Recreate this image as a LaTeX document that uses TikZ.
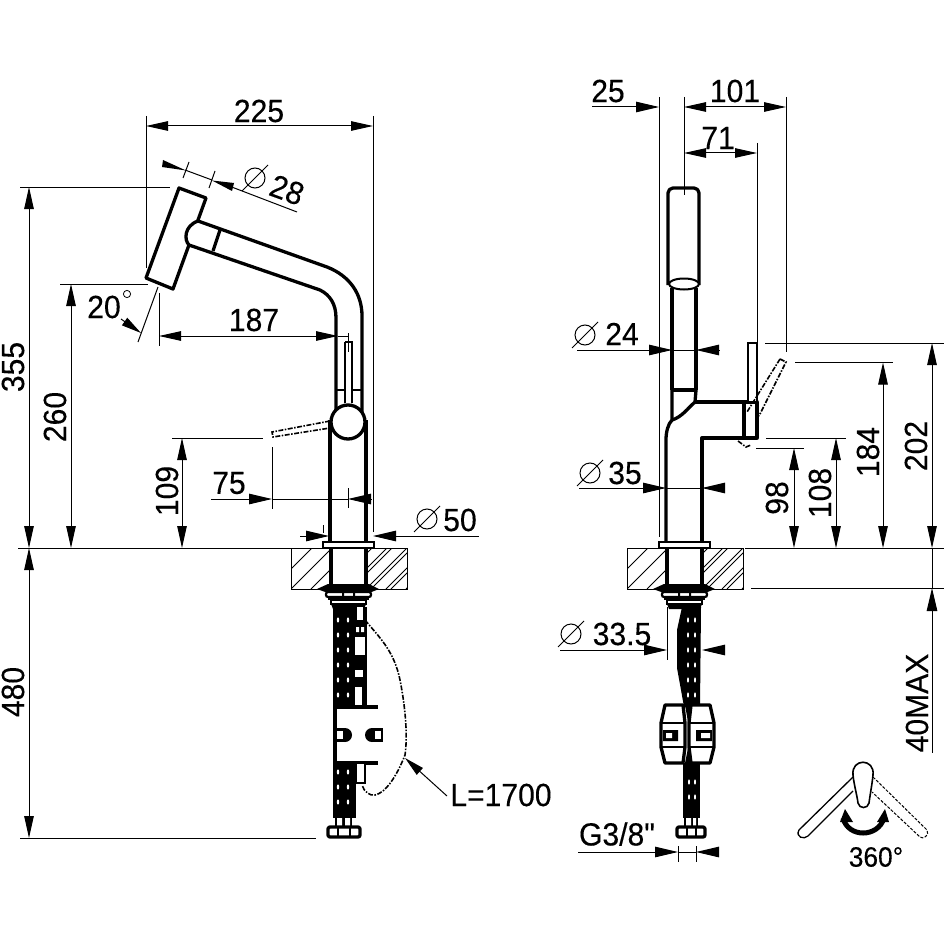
\documentclass[tikz,border=0pt]{standalone}
\usepackage{fontspec}
\setmainfont{Liberation Sans}[FakeStretch=0.94,FakeBold=0.25]
\newfontfamily\plainq{Liberation Sans}[FakeStretch=0.94,FakeBold=0.25]
\usetikzlibrary{arrows.meta}
\tikzset{
  body/.style={line width=3.3pt,line join=round},
  mid/.style={line width=2.2pt},
  thin/.style={line width=1pt},
  dim/.style={thin,arrows={Triangle[length=22pt,width=9.5pt]-Triangle[length=22pt,width=9.5pt]}},
  dimr/.style={thin,arrows={-Triangle[length=23pt,width=10.5pt]}},
  diml/.style={thin,arrows={Triangle[length=23pt,width=10.5pt]-}},
  lab/.style={inner sep=0pt,font=\fontsize{32}{32}\selectfont},
  dd/.style={line width=1.6pt,dash pattern=on 5pt off 1.5pt on 1.5pt off 1.5pt},
}
\newcommand{\dsym}[2]{%
  \draw[line width=1pt] (#1,#2) circle[radius=10pt];
  \draw[line width=1pt] (#1-13,#2+13) -- (#1+13,#2-13);}
\newcommand{\basepart}{%
  \begin{scope}
    \clip (291,548) rectangle (331,589) (366,548) rectangle (407,589);
    \foreach \k in {-60,-40,...,140}{\draw[line width=.8pt] (291+\k,589) -- (291+\k+41,548);}
    \foreach \k in {-40,-20,...,140}{\draw[line width=.8pt] (366+\k,589) -- (366+\k+41,548);}
  \end{scope}
  \draw[line width=.9pt] (291,548) rectangle (407,589);
  \fill[white] (331,549) rectangle (366,586);
  \draw[body] (331,548) -- (331,586) (366,548) -- (366,586);
  \draw[mid,fill=white] (323,542) rectangle (374,548);
  \fill (317,589) -- (328,584) -- (369,584) -- (379,589) -- (369,593) -- (328,593) -- cycle;
  \draw[mid,fill=white,rounded corners=2pt] (326,592) rectangle (371,597);
  \fill (342,592.5) rectangle (344,596.5) (353,592.5) rectangle (355,596.5);
  \fill (328,597) rectangle (369,600);
  \draw[mid,fill=white] (331,600) rectangle (366,604);
  \fill (331,604) -- (366,604) -- (364,609) -- (333,609) -- cycle;
}
\begin{document}
\begin{tikzpicture}[x=1pt,y=-1pt]
\useasboundingbox (0,0) rectangle (944,944);
\fill[white] (0,0) rectangle (944,944);

% ---- LEFT VIEW: faucet
\draw[body,fill=white] (179,188) -- (206,198) -- (173,289) -- (146,278) -- cycle;
\fill[white] (198,221) -- (327,267) .. controls (350,276) and (362,294) .. (362,316) -- (362,412)
   -- (336,412) -- (336,318) .. controls (336,304) and (330,295) .. (320,290) -- (189,245)
   .. controls (184,240) and (184,226) .. (198,221) -- cycle;
\draw[body] (336,412) -- (336,318) .. controls (336,304) and (330,295) .. (320,290) -- (189,245)
   .. controls (184,240) and (184,226) .. (198,221) -- (327,267) .. controls (350,276) and (362,294) .. (362,316) -- (362,412);
\draw[body] (220,230) -- (213,251);
\draw[line width=2.5pt] (345,342) -- (345,403) (352,403) -- (352,342) -- (345,342);
\draw[mid] (336,390) -- (345,390) (352,390) -- (362,390);
\draw[dd] (330,421) -- (272,432) -- (273,437) -- (330,428);
\draw[body] (330,420) -- (330,542) (366,420) -- (366,542);
\draw[line width=3.3pt,fill=white] (348,422) circle[radius=17pt];
\basepart

% hose left
\fill (333,607) rectangle (367,707);
\foreach \y in {620,635,650,665,680,695}{
  \fill[white] (338,\y) ellipse[x radius=1.2pt,y radius=2.6pt];
  \fill[white] (348,\y) ellipse[x radius=1.2pt,y radius=2.6pt];}
\fill[white] (357,607) rectangle (363,620);
\fill[white] (356,627) rectangle (359,632) (361,627) rectangle (364,632);
\fill[white] (355,637) rectangle (365,655);
\fill[white] (355,670) rectangle (363,677);
\fill[white] (355,687) rectangle (362,705);
% plate left
\fill[white] (336,707) rectangle (378,763);
\draw[body] (335,707) -- (378,707) (335,763) -- (378,763);
\draw[body] (335,705) -- (335,765);
\fill (345,735) circle[radius=7pt];
\fill (335,728) rectangle (345,742);
\fill[white] (337,731) rectangle (343,739);
\fill (372,735) circle[radius=7pt];
\fill (372,728) rectangle (383,742);
\fill[white] (375,731) rectangle (381,739);
\fill (333,763) rectangle (356,818);
\draw[line width=2.5pt,fill=white] (356,764) -- (356,783) -- (365,783) -- (365,764);
\foreach \y in {772,787,802}{
  \fill[white] (338,\y) ellipse[x radius=1.2pt,y radius=2.6pt];
  \fill[white] (348,\y) ellipse[x radius=1.2pt,y radius=2.6pt];}
\fill (335,816) rectangle (352,828);
\fill[white] (337,818) rectangle (342,826) (345,818) rectangle (350,826);
\draw[body,fill=white,rounded corners=2pt] (328,827) rectangle (360,837);
\draw[mid] (338,827) -- (338,837) (350,827) -- (350,837);
\draw[dd] (365,620) .. controls (378,636) and (394,650) .. (400,680)
  .. controls (405,705) and (408,735) .. (405,755)
  .. controls (396,778) and (385,793) .. (375,795)
  .. controls (370,796) and (364,792) .. (362,785);

% ---- RIGHT VIEW: faucet
\draw[body,fill=white,rounded corners=5pt] (668,285) -- (668,188) -- (699,188) -- (699,285);
\draw[body] (672,288) -- (672,390) (696,288) -- (696,390);
\draw[line width=2pt,fill=white] (684,284) ellipse[x radius=15pt,y radius=5.5pt];
\draw[body] (672,390) -- (695,390);
\draw[body] (672,390) -- (672,420) .. controls (668,424) and (666,432) .. (666,440) -- (666,542);
\draw[body] (672,420) .. controls (682,417) and (688,408) .. (695,402) -- (696,390);
\draw[body] (695,402) -- (757,402) -- (757,438) -- (702,438) -- (702,542);
\draw[line width=2.5pt,fill=white] (748,343) -- (748,402) -- (757,402) -- (757,343) -- cycle;
\draw[line width=3.5pt] (744,403) -- (744,438);
\draw[dd] (780,359) -- (786,362) -- (759,416);
\draw[dd] (780,359) -- (747,412);
\draw[dd] (738,441) -- (746,447) -- (751,445);
\begin{scope}[xshift=336pt]\basepart\end{scope}

% hose right
\fill (682,607) -- (701,607) -- (700,707) -- (684,707) -- (681,690) -- (677,668) -- (677,630) -- cycle;
\foreach \y in {620,635,650,665,680,695}{
  \fill[white] (688,\y) ellipse[x radius=1pt,y radius=2.6pt];
  \fill[white] (695,\y) ellipse[x radius=1pt,y radius=2.6pt];}
\fill (683,763) rectangle (700,818);
\foreach \y in {782,797}{
  \fill[white] (689,\y) ellipse[x radius=1pt,y radius=2.6pt];
  \fill[white] (695,\y) ellipse[x radius=1pt,y radius=2.6pt];}
% connector right
\draw[body,fill=white] (665,705) -- (683,705) -- (685,723) -- (685,747) -- (683,763) -- (665,763) -- (661,747) -- (661,723) -- cycle;
\draw[body,fill=white] (691,705) -- (710,705) -- (714,723) -- (714,747) -- (710,763) -- (691,763) -- (689,747) -- (689,723) -- cycle;
\draw[mid] (661,723) -- (685,723) (661,747) -- (685,747) (689,723) -- (714,723) (689,747) -- (714,747);
\fill (663,730) rectangle (678,741) (696,730) rectangle (712,741);
\fill[white] (666,733) rectangle (672,738) (701,733) rectangle (710,738);
\fill (685,705) -- (691,705) -- (688,722) -- cycle;
\fill (685,763) -- (691,763) -- (688,748) -- cycle;
\fill (684,816) rectangle (698,828);
\fill[white] (686,818) rectangle (691,826) (693,818) rectangle (696,826);
\draw[body,fill=white,rounded corners=2pt] (677,827) rectangle (705,837);
\draw[mid] (687,827) -- (687,837) (696,827) -- (696,837);

% ---- LEFT VIEW: dimension lines
\draw[thin] (146,116) -- (146,268);
\draw[thin] (373,116) -- (373,532);
\draw[dim] (146,126) -- (373,126);
\node[lab] (t225) at (259,111) {225};

\draw[thin] (20,187) -- (170,187);
\draw[thin] (18,548) -- (291,548);
\draw[dim] (29,187) -- (29,548);
\node[lab,rotate=90] (t355) at (13,367) {355};
\draw[dim] (29,548) -- (29,838);
\node[lab,rotate=90] (t480) at (13,692) {480};
\draw[thin] (20,838) -- (316,838);

\draw[thin] (60,284) -- (148,284);
\draw[dim] (71,284) -- (71,548);
\node[lab,rotate=90] (t260) at (55,417) {260};

\draw[thin] (172,438) -- (263,438);
\draw[dim] (182,438) -- (182,548);
\node[lab,rotate=90] (t109) at (167,491) {109};

% 28
\draw[thin] (189,162) -- (183,178) (215,171) -- (209,188);
\draw[thin] (185,170) -- (212,180);
\draw[thin] (233,187.5) -- (297,212);
\fill (163,160) -- (186,170.5) -- (162,167) -- cycle;
\fill (212,180.5) -- (234,183) -- (232,191) -- cycle;
\dsym{255}{178}
\node[lab,rotate=-20] (t28) at (287,190) {28};

% 20 deg
\draw[thin] (158,287) -- (138,342);
\draw[thin,-{Triangle[length=20pt,width=9pt]}] (121,319) -- (141,333);
\node[lab] (t20) at (104,307) {20};
\draw[line width=.8pt] (127,294) circle[radius=3.6pt];

% 187
\draw[thin] (159,293) -- (159,346);
\draw[thin] (348,333) -- (348,352) (338,336) -- (348,336);
\draw[dim] (159,336) -- (338,336);
\node[lab] (t187) at (254,320) {187};

% 75
\draw[thin] (272,447) -- (272,509) (348,488) -- (348,508);
\draw[dimr] (211,499) -- (272,499);
\draw[diml] (348,499) -- (371,499);
\draw[thin] (272,499) -- (348,499);
\node[lab] (t75) at (229,483) {75};

% 50
\draw[thin] (323,525) -- (323,533);
\draw[dimr] (300,536) -- (329,536);
\draw[diml] (373,536) -- (479,536);
\dsym{427}{519}
\node[lab] (t50) at (460,520) {50};

% L=1700
\draw[thin,-{Triangle[length=20pt,width=9pt]}] (447,796) -- (405,758);
\node[lab] (tL) at (501,795) {L=1700};

% ---- RIGHT VIEW: dimension lines
\draw[thin] (659,97) -- (659,537);
\draw[thin] (684,97) -- (684,195);
\draw[thin] (786,97) -- (786,352);
\draw[thin] (757,143) -- (757,342);
\draw[dimr] (592,107) -- (659,107);
\draw[dim] (684,107) -- (786,107);
\node[lab] (t25) at (608,91) {25};
\node[lab] (t101) at (735,91) {101};
\draw[dim] (684,153) -- (757,153);
\node[lab] (t71) at (718,138) {71};

\dsym{585}{335}
\node[lab] (t24) at (622,334) {24};
\draw[dimr] (577,350) -- (672,350);
\draw[diml] (696,350) -- (719,350);
\draw[thin] (672,350) -- (696,350);
\dsym{590}{473}
\node[lab] (t35) at (625,473) {35};
\draw[dimr] (579,488) -- (666,488);
\draw[diml] (702,488) -- (724,488);
\draw[thin] (666,488) -- (702,488);
\dsym{571}{634}
\node[lab] (t335) at (622,634) {33.5};
\draw[thin] (667,607) -- (667,660);
\draw[dimr] (560,650) -- (667,650);
\draw[diml] (702,650) -- (723,650);
\node[lab,font=\fontsize{32}{32}\plainq] (tg) at (617,834) {G3/8"};
\draw[dimr] (578,852) -- (678,852);
\draw[diml] (696,852) -- (718,852);
\draw[thin] (678,846) -- (678,862) (696,846) -- (696,862);
\draw[thin] (678,852) -- (696,852);

\draw[thin] (765,343) -- (944,343);
\draw[thin] (795,362.5) -- (893,362.5);
\draw[thin] (766,438) -- (846,438);
\draw[thin] (756,448) -- (804,448);
\draw[thin] (745,548) -- (944,548);
\draw[thin] (751,588) -- (944,588);
\draw[dim] (932,343) -- (932,548);
\node[lab,rotate=90] (t202) at (916,446) {202};
\draw[dim] (883,362.5) -- (883,548);
\node[lab,rotate=90] (t184) at (868,452) {184};
\draw[dim] (836,438) -- (836,548);
\node[lab,rotate=90] (t108) at (820,493) {108};
\draw[dim] (794,448) -- (794,548);
\node[lab,rotate=90] (t98) at (777,498) {98};
\draw[thin] (932,548) -- (932,588);
\draw[diml] (932,588) -- (932,753);
\node[lab,rotate=90] (t40) at (917,703) {40MAX};

% ---- 360 symbol
\draw[line width=1.3pt,fill=white] (853,777) -- (799,830) .. controls (795,837) and (804,840) .. (808,836) -- (853,791);
\draw[line width=1pt,dash pattern=on 3pt off 1.5pt] (873,777) -- (927,830) .. controls (930,835) and (923,840) .. (920,837) -- (872,792);
\draw[line width=1.6pt,fill=white] (853,775) .. controls (851,758) and (875,758) .. (873,775) .. controls (872,785) and (870,795) .. (869,803) .. controls (868,809) and (859,809) .. (858,803) .. controls (857,795) and (854,785) .. (853,775) -- cycle;
\draw[line width=5pt] (843,818) .. controls (848,838) and (878,838) .. (884,818);
\fill (840,822) -- (845,809) -- (853,822) -- cycle;
\fill (877,822) -- (885,809) -- (889,822) -- cycle;
\node[inner sep=0pt,font=\fontsize{28}{28}\selectfont] (t360) at (876,857) {360°};
\end{tikzpicture}
\end{document}
